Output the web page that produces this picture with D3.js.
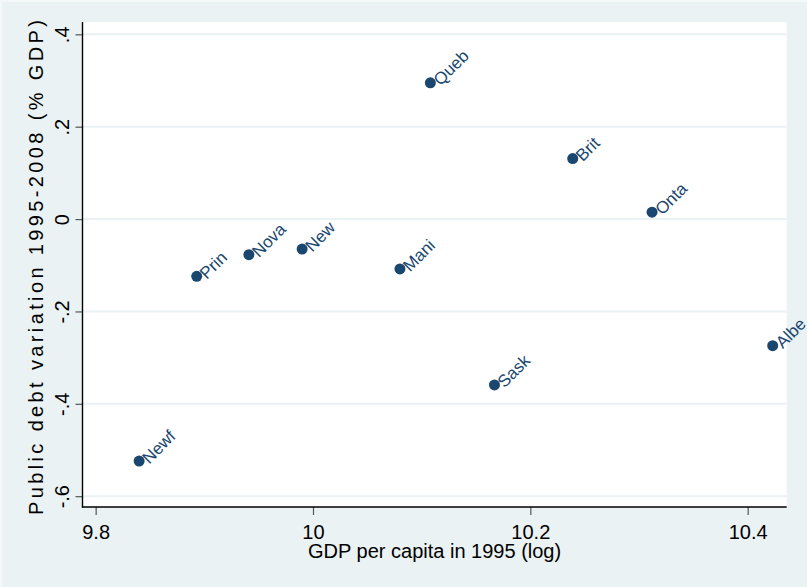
<!DOCTYPE html>
<html>
<head>
<meta charset="utf-8">
<script src="https://cdn.jsdelivr.net/npm/d3@7"></script>
<style>
  html, body { margin: 0; padding: 0; background: #EAF2F3; }
  svg { display: block; }
  text { font-family: "Liberation Sans", Arial, Helvetica, sans-serif; }
</style>
</head>
<body>
<svg id="chart" width="807" height="587"></svg>
<script>
// Province abbreviations, log GDP per capita in 1995, and public debt variation 1995-2008 (% GDP)
const provinces = ["Newf", "Prin", "Nova", "New", "Mani", "Queb", "Sask", "Brit", "Onta", "Albe"];
const gdpLog    = [9.840, 9.893, 9.941, 9.990, 10.080, 10.108, 10.167, 10.239, 10.312, 10.423];
const debtVar   = [-0.524, -0.124, -0.077, -0.065, -0.108, 0.295, -0.359, 0.131, 0.015, -0.274];

const xTicks = [9.8, 10, 10.2, 10.4];
const yTicks = [-0.6, -0.4, -0.2, 0, 0.2, 0.4];
const xTickLabels = ["9.8", "10", "10.2", "10.4"];
const yTickLabels = ["-.6", "-.4", "-.2", "0", ".2", ".4"];

const xTitle = "GDP per capita in 1995 (log)";
const yTitle = "Public debt variation 1995-2008 (% GDP)";

const W = 807, H = 587;
const plot = { left: 82.5, top: 22, right: 786.7, bottom: 507 };

const svg = d3.select("#chart");

// graph region with a faint light edge along top and left
svg.append("rect").attr("x", 0).attr("y", 0).attr("width", W).attr("height", H).attr("fill", "#EAF2F3");
svg.append("path").attr("d", `M1,${H} V1 H${W}`).attr("fill", "none").attr("stroke", "#F4F8F9").attr("stroke-width", 2);

// plot region
svg.append("rect")
  .attr("x", plot.left).attr("y", plot.top)
  .attr("width", plot.right - plot.left).attr("height", plot.bottom - plot.top)
  .attr("fill", "#FFFFFF");

const x = d3.scaleLinear().domain([9.7879, 10.4359]).range([plot.left, plot.right]);
const y = d3.scaleLinear().domain([-0.6234, 0.4267]).range([plot.bottom, plot.top]);

// horizontal gridlines
svg.append("g").selectAll("line").data(yTicks).join("line")
  .attr("x1", plot.left).attr("x2", plot.right)
  .attr("y1", d => y(d)).attr("y2", d => y(d))
  .attr("stroke", "#EAF2F3").attr("stroke-width", 2);

// y axis
const yAxis = d3.axisLeft(y).tickValues(yTicks)
  .tickFormat((d, i) => yTickLabels[i]).tickSize(7).tickSizeOuter(0);
const gy = svg.append("g").attr("transform", `translate(${plot.left},0)`).call(yAxis);
gy.select(".domain").remove();
gy.selectAll(".tick line").attr("stroke", "#555").attr("stroke-width", 1.2);
gy.selectAll(".tick text")
  .attr("x", null).attr("dy", null)
  .attr("transform", "translate(-14,0) rotate(-90)")
  .attr("text-anchor", "middle")
  .attr("font-size", 20).attr("fill", "#000")
  .attr("font-family", "'Liberation Sans', Arial, sans-serif");

// x axis
const xAxis = d3.axisBottom(x).tickValues(xTicks)
  .tickFormat((d, i) => xTickLabels[i]).tickSize(8).tickSizeOuter(0);
const gx = svg.append("g").attr("transform", `translate(0,${plot.bottom})`).call(xAxis);
gx.select(".domain").remove();
gx.selectAll(".tick line").attr("stroke", "#555").attr("stroke-width", 1.2);
gx.selectAll(".tick text")
  .attr("y", 32).attr("dy", null)
  .attr("text-anchor", "middle")
  .attr("font-size", 20).attr("fill", "#000")
  .attr("font-family", "'Liberation Sans', Arial, sans-serif");

// axis lines
svg.append("line").attr("x1", plot.left).attr("x2", plot.left)
  .attr("y1", plot.top).attr("y2", plot.bottom + 0.6)
  .attr("stroke", "#000").attr("stroke-width", 1.4);
svg.append("line").attr("x1", plot.left - 0.6).attr("x2", plot.right)
  .attr("y1", plot.bottom).attr("y2", plot.bottom)
  .attr("stroke", "#000").attr("stroke-width", 1.4);

// axis titles
svg.append("text")
  .attr("x", (plot.left + plot.right) / 2).attr("y", 558)
  .attr("text-anchor", "middle").attr("font-size", 20).attr("fill", "#000")
  .text(xTitle);

svg.append("text")
  .attr("transform", "translate(43,267.5) rotate(-90)")
  .attr("text-anchor", "middle").attr("font-size", 20).attr("fill", "#000")
  .attr("textLength", 495).attr("lengthAdjust", "spacing")
  .text(yTitle);

// points with labels at 45 degrees
const pts = provinces.map((p, i) => ({ name: p, gx: gdpLog[i], dv: debtVar[i] }));
const g = svg.append("g");
g.selectAll("circle").data(pts).join("circle")
  .attr("cx", d => x(d.gx)).attr("cy", d => y(d.dv))
  .attr("r", 5.5).attr("fill", "#1A476F");

g.selectAll("text").data(pts).join("text")
  .attr("transform", d => `translate(${x(d.gx) + 6.5},${y(d.dv)}) rotate(-45)`)
  .attr("dy", "0.3em")
  .attr("font-size", 17).attr("fill", "#1A476F")
  .text(d => d.name);
</script>
</body>
</html>
